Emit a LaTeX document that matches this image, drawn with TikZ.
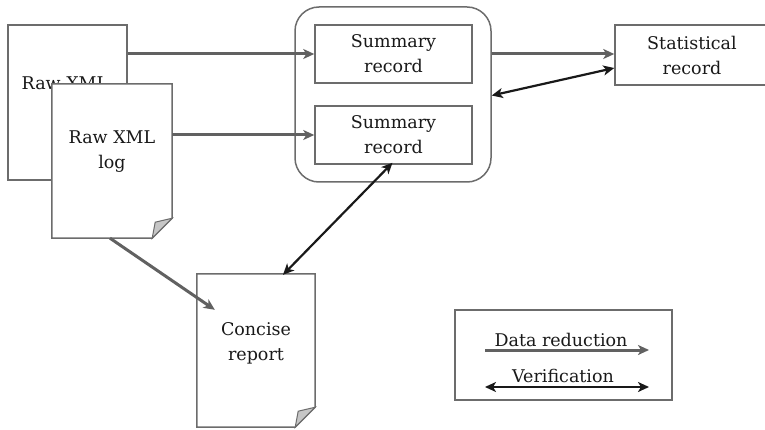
\documentclass[tikz,border=0pt]{standalone}
\usepackage{fontspec}
\setmainfont{DejaVu Serif}
\usetikzlibrary{arrows.meta}
\begin{document}
\begin{tikzpicture}[x=1pt,y=-1pt,
  every node/.style={font=\fontsize{17.5}{25}\selectfont, align=center, inner sep=0pt, text=black!90},
  box/.style={draw=gray!85!black, line width=1.5pt, fill=white, rectangle},
  doc/.style={draw=none, rectangle},
  docline/.style={draw=gray!85!black, line width=1.5pt, fill=white, line join=miter},
  fold/.style={draw=gray!85!black, line width=1pt, fill=gray!45},
  reduce/.style={draw=black!62, line width=3pt, -{Stealth[length=11pt,width=10pt,inset=3pt]}},
  verify/.style={draw=black!90, line width=2.2pt, {Stealth[length=11pt,width=10pt,inset=3pt]}-{Stealth[length=11pt,width=10pt,inset=3pt]}}
]
\useasboundingbox (0,0) rectangle (765,430);

% back raw XML document
\node[box, minimum width=119pt, minimum height=155pt] (raw1) at (67.5,102.5) {};
\node (raw1t) at (65,83) {Raw XML};

% front raw XML log document
\node[doc, minimum width=120pt, minimum height=154pt] (raw2) at (112,161) {};
\draw[docline] (raw2.north west) -- (raw2.north east) -- ([yshift=20pt]raw2.south east)
  -- ([xshift=-20pt]raw2.south east) -- (raw2.south west) -- cycle;
\draw[fold] ([yshift=20pt]raw2.south east) -- ([xshift=-20pt]raw2.south east) -- ([xshift=-17pt,yshift=16pt]raw2.south east) -- cycle;
\node (raw2t) at (112,152) {Raw XML\\log};

% concise report
\node[doc, minimum width=118pt, minimum height=153pt] (rep) at (256,350.5) {};
\draw[docline] (rep.north west) -- (rep.north east) -- ([yshift=20pt]rep.south east)
  -- ([xshift=-20pt]rep.south east) -- (rep.south west) -- cycle;
\draw[fold] ([yshift=20pt]rep.south east) -- ([xshift=-20pt]rep.south east) -- ([xshift=-17pt,yshift=16pt]rep.south east) -- cycle;
\node (rept) at (256,343) {Concise\\report};

% container and summary records
\node[draw=gray!85!black, line width=1.5pt, rounded corners=24pt, rectangle,
      minimum width=196pt, minimum height=175pt] (grp) at (393,94.5) {};
\node[box, minimum width=157pt, minimum height=58pt] (sr1) at (393.5,54) {Summary\\record};
\node[box, minimum width=157pt, minimum height=58pt] (sr2) at (393.5,135) {Summary\\record};

% statistical record
\node[box, minimum width=154pt, minimum height=60pt] (stat) at (692,55) {Statistical\\record};

% data reduction arrows
\draw[reduce] (raw1.east |- sr1.west) -- (sr1.west);
\draw[reduce] (raw2.east |- sr2.west) -- (sr2.west);
\draw[reduce] (grp.east |- sr1.west) -- (stat.west |- sr1.west);
\draw[reduce] ([xshift=-2pt]raw2.south) -- ([xshift=18pt,yshift=-36pt]rep.north west);

% verification arrows
\draw[verify] ([yshift=-1pt]grp.east) -- ([yshift=-13pt]stat.west);
\draw[verify] ([xshift=-1pt,yshift=2pt]sr2.south) -- ([xshift=27pt,yshift=-1pt]rep.north);

% legend
\node[box, minimum width=217pt, minimum height=90pt] (leg) at (563.5,355) {};
\coordinate (l1a) at (485,350);
\coordinate (l1b) at (649,350);
\coordinate (l2a) at (485,387);
\coordinate (l2b) at (649,387);
\draw[reduce] (l1a) -- (l1b);
\draw[verify] (l2a) -- (l2b);
\node[anchor=base] (legt1) at (561,346) {Data reduction};
\node[anchor=base] (legt2) at (563,382) {Verification};
\end{tikzpicture}
\end{document}
